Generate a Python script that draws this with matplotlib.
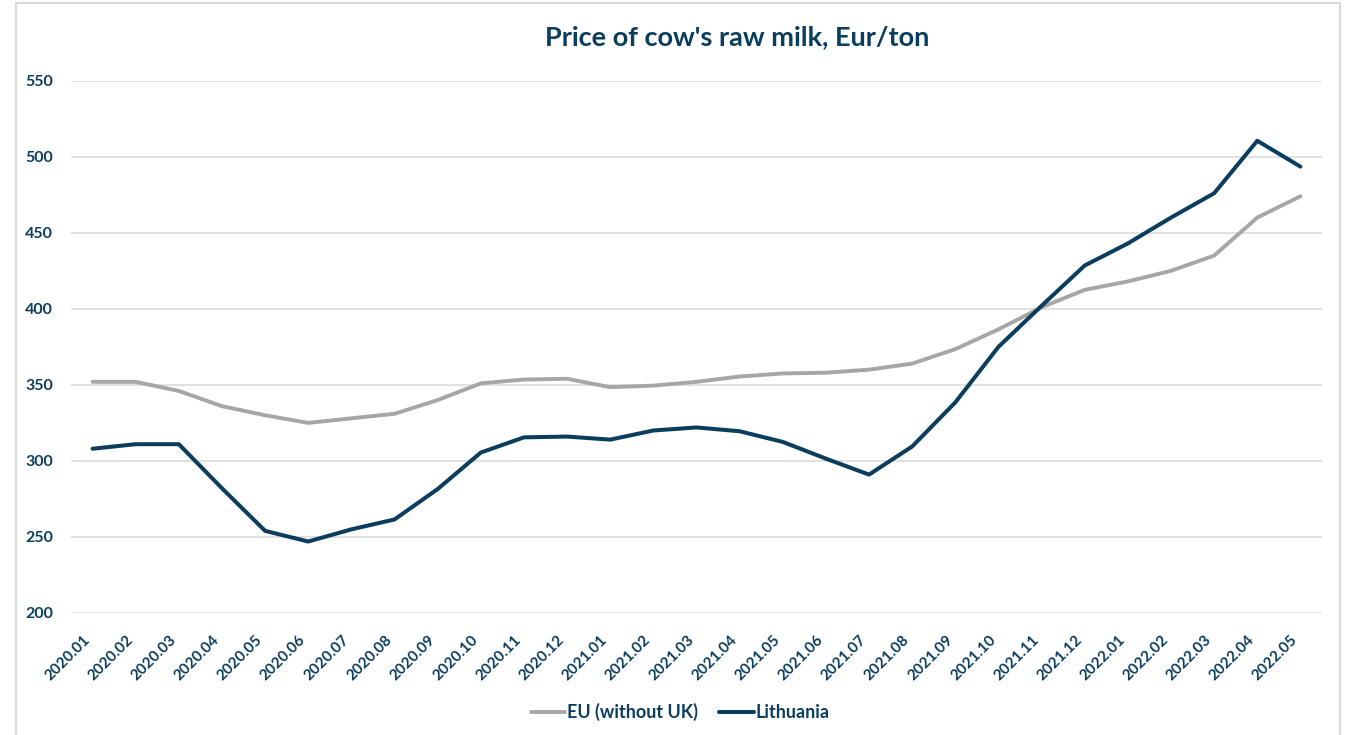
import matplotlib
matplotlib.use("Agg")
import matplotlib.pyplot as plt
from matplotlib.patches import Rectangle

# monthly raw milk price, Eur/ton
months = ["2020.01", "2020.02", "2020.03", "2020.04", "2020.05", "2020.06",
          "2020.07", "2020.08", "2020.09", "2020.10", "2020.11", "2020.12",
          "2021.01", "2021.02", "2021.03", "2021.04", "2021.05", "2021.06",
          "2021.07", "2021.08", "2021.09", "2021.10", "2021.11", "2021.12",
          "2022.01", "2022.02", "2022.03", "2022.04", "2022.05"]
eu_prices = [352, 352, 346, 336, 330, 325, 328, 331, 340, 351, 353.5, 354,
             348.5, 349.5, 352, 355.5, 357.5, 358, 360, 364, 373.5, 386.5,
             401, 412.5, 418, 425, 435, 460, 474]
lt_prices = [308, 311, 311, 282, 254, 247, 255, 261.5, 281.5, 305.5, 315.5, 316,
             314, 320, 322, 319.5, 312.5, 301.5, 291, 309.5, 338.5, 375,
             402, 428.5, 443, 460, 476, 510.5, 493.5]
y_ticks = [200, 250, 300, 350, 400, 450, 500, 550]

NAVY = "#0B3D5E"
GREY = "#A6A6A6"
GRID = "#D9D9D9"
FONT = "Lato"

W, H = 1345, 735
fig = plt.figure(figsize=(W / 100, H / 100), dpi=100)
ax = fig.add_axes([71 / W, 1 - 613 / H, (1322 - 71) / W, (613 - 80.7) / H])

x = range(len(months))
ax.plot(x, eu_prices, color=GREY, lw=2.8, label="EU (without UK)", solid_capstyle="round")
ax.plot(x, lt_prices, color=NAVY, lw=2.9, label="Lithuania", solid_capstyle="round")

ax.set_xlim(-0.5, len(months) - 0.5)
ax.set_ylim(200, 550)
ax.set_yticks(y_ticks)
ax.set_yticklabels([str(v) for v in y_ticks], fontfamily=FONT, fontweight="bold",
                   fontsize=11.5, color=NAVY)
ax.set_xticks(list(x))
ax.set_xticklabels(months, rotation=45, ha="right", va="top", fontfamily=FONT,
                   fontweight="bold", fontsize=11, color=NAVY)
ax.tick_params(axis="y", length=0, pad=13)
ax.tick_params(axis="x", length=0, pad=14)
ax.grid(True, axis="y", color=GRID, lw=1.1)
ax.set_axisbelow(True)
for s in ax.spines.values():
    s.set_visible(False)

fig.text(737 / W, 1 - 37 / H, "Price of cow's raw milk, Eur/ton", ha="center", va="center",
         fontfamily=FONT, fontweight="bold", fontsize=19.5, color=NAVY)

fig.legend(loc="center", bbox_to_anchor=(680 / W, 1 - 712 / H), ncol=2, frameon=False,
           handlelength=1.9, handletextpad=0.1, columnspacing=1.2,
           prop={"family": FONT, "weight": "bold", "size": 13}, labelcolor=NAVY)

# thin frame around the chart area
fig.add_artist(Rectangle((16 / W, -0.1), (1340 - 16) / W, (H - 3.5) / H + 0.1,
                         transform=fig.transFigure, fill=False, edgecolor=GRID, lw=1.5))

fig.savefig("out.png", dpi=100, facecolor="white")
